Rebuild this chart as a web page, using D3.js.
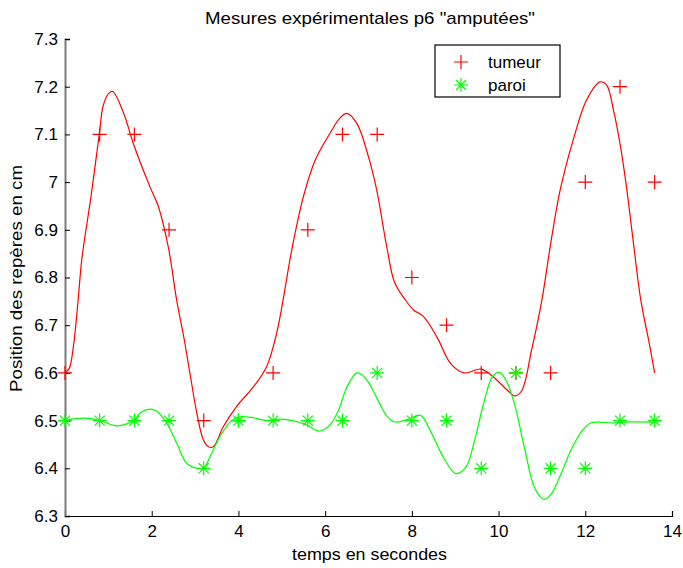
<!DOCTYPE html>
<html><head><meta charset="utf-8">
<script src="https://cdn.jsdelivr.net/npm/d3@7"></script>
<style>body{margin:0;background:#fff}svg{display:block}text{font-family:"Liberation Sans",Arial,sans-serif;fill:#000}</style>
</head><body><svg id="c" width="683" height="568"></svg>
<script>
const markerT = [0,0.8,1.6,2.4,3.2,4.0,4.8,5.6,6.4,7.2,8.0,8.8,9.6,10.4,11.2,12.0,12.8,13.6];
const tumeurMarks = [6.6,7.1,7.1,6.9,6.5,6.5,6.6,6.9,7.1,7.1,6.8,6.7,6.6,6.6,6.6,7.0,7.2,7.0];
const paroiMarks  = [6.5,6.5,6.5,6.5,6.4,6.5,6.5,6.5,6.5,6.6,6.5,6.5,6.4,6.6,6.4,6.4,6.5,6.5];
const tumeurCurveT = [0,0.1,0.2,0.3,0.39,0.6,0.79,0.88,1.0,1.1,1.35,1.58,1.96,2.15,2.38,2.58,2.73,2.88,3.04,3.19,3.31,3.42,3.65,3.96,4.34,4.65,4.88,5.03,5.23,5.5,5.77,6.11,6.34,6.5,6.73,7.0,7.19,7.42,7.6,7.85,8.04,8.27,8.58,8.9,9.21,9.6,9.9,10.22,10.37,10.53,10.76,11.0,11.2,11.42,11.72,12.03,12.34,12.49,12.65,12.8,12.95,13.1,13.28,13.48,13.6];
const tumeurCurveV = [6.6,6.61,6.66,6.75,6.84,6.97,7.10,7.16,7.185,7.19,7.145,7.08,6.99,6.95,6.865,6.75,6.68,6.60,6.516,6.46,6.445,6.445,6.487,6.53,6.57,6.613,6.683,6.753,6.858,6.97,7.046,7.102,7.134,7.144,7.123,7.053,6.983,6.865,6.79,6.753,6.732,6.718,6.675,6.619,6.6,6.608,6.59,6.562,6.552,6.562,6.647,6.753,6.87,6.983,7.088,7.172,7.21,7.204,7.151,7.081,6.99,6.88,6.753,6.66,6.6];
const paroiCurveT = [0,0.42,0.81,1.19,1.58,1.73,1.96,2.11,2.35,2.58,2.81,3.04,3.19,3.38,3.57,3.84,4.04,4.34,4.65,4.96,5.42,5.6,5.85,6.1,6.3,6.5,6.73,6.85,7.0,7.15,7.26,7.42,7.61,7.89,8.2,8.43,8.74,9.01,9.25,9.44,9.67,9.87,10.02,10.18,10.37,10.6,10.84,11.05,11.22,11.46,11.69,11.92,12.12,12.31,12.62,12.86,13.6];
const paroiCurveV = [6.5,6.505,6.5,6.489,6.5,6.516,6.524,6.52,6.494,6.452,6.41,6.4,6.4,6.431,6.466,6.5,6.508,6.506,6.5,6.503,6.496,6.49,6.478,6.49,6.52,6.57,6.6,6.596,6.58,6.555,6.535,6.51,6.497,6.502,6.511,6.478,6.421,6.389,6.403,6.456,6.541,6.594,6.601,6.583,6.534,6.442,6.357,6.335,6.347,6.393,6.442,6.478,6.495,6.497,6.495,6.497,6.497];
const xTicks = [0,2,4,6,8,10,12,14];
const yTicks = [6.3,6.4,6.5,6.6,6.7,6.8,6.9,7.0,7.1,7.2,7.3];
const yTickLabels = ["6.3","6.4","6.5","6.6","6.7","6.8","6.9","7","7.1","7.2","7.3"];
const titleText = 'Mesures expérimentales p6 "amputées"';
const xLabel = "temps en secondes";
const yLabel = "Position des repères en cm";
const legendLabels = ["tumeur","paroi"];
const RED = "#ff0000", GREEN = "#00ff00";
const FONT = "Liberation Sans, Arial, sans-serif";

const svg = d3.select("#c");
const x = d3.scaleLinear().domain([0,14]).range([65,672]);
const y = d3.scaleLinear().domain([6.3,7.3]).range([516,39]);

// axes
const xAxis = d3.axisBottom(x).tickValues(xTicks).tickSize(-5).tickPadding(9).tickFormat(d3.format("d"));
const gx = svg.append("g").attr("transform","translate(0,516)").call(xAxis);
gx.select(".domain").attr("stroke","#000").attr("stroke-width",1.2);
gx.selectAll(".tick line").attr("stroke","#000");
gx.selectAll("text").attr("font-size",17).attr("font-family",FONT);

const yAxis = d3.axisLeft(y).tickValues(yTicks).tickSize(-5).tickPadding(7).tickFormat((d,i)=>yTickLabels[i]);
const gy = svg.append("g").attr("transform","translate(65,0)").call(yAxis);
gy.select(".domain").attr("stroke","#7a7a7a").attr("stroke-width",2);
gy.selectAll(".tick line").attr("stroke","#000");
gy.selectAll("text").attr("font-size",17).attr("font-family",FONT);

// curves
const line = d3.line().x(d=>x(d[0])).y(d=>y(d[1])).curve(d3.curveCatmullRom);
svg.append("path").datum(tumeurCurveT.map((t,i)=>[t,tumeurCurveV[i]]))
  .attr("d",line).attr("fill","none").attr("stroke",RED).attr("stroke-width",1.2);
svg.append("path").datum(paroiCurveT.map((t,i)=>[t,paroiCurveV[i]]))
  .attr("d",line).attr("fill","none").attr("stroke",GREEN).attr("stroke-width",1.2);

// markers
const plus = (g,s)=>g.attr("d",`M${-s},0H${s}M0,${-s}V${s}`);
const star = (g,s)=>{const a=s*0.72;return g.attr("d",`M${-s},0H${s}M0,${-s}V${s}M${-a},${-a}L${a},${a}M${-a},${a}L${a},${-a}`);};
svg.append("g").selectAll("path").data(markerT.map((t,i)=>[t,tumeurMarks[i]])).join("path")
  .attr("transform",d=>`translate(${x(d[0])},${y(d[1])})`).call(plus,7)
  .attr("stroke",RED).attr("stroke-width",1.2).attr("fill","none");
svg.append("g").selectAll("path").data(markerT.map((t,i)=>[t,paroiMarks[i]])).join("path")
  .attr("transform",d=>`translate(${x(d[0])},${y(d[1])})`).call(star,7)
  .attr("stroke",GREEN).attr("stroke-width",1.2).attr("fill","none");

// title and labels
svg.append("text").attr("x",370).attr("y",24).attr("text-anchor","middle").attr("font-size",17)
  .attr("textLength",330).attr("lengthAdjust","spacingAndGlyphs").text(titleText);
svg.append("text").attr("x",369.5).attr("y",560).attr("text-anchor","middle").attr("font-size",17)
  .attr("textLength",155).attr("lengthAdjust","spacingAndGlyphs").text(xLabel);
svg.append("text").attr("transform","translate(22,278.5) rotate(-90)").attr("text-anchor","middle").attr("font-size",17)
  .attr("textLength",227).attr("lengthAdjust","spacingAndGlyphs").text(yLabel);

// legend
const lg = svg.append("g");
lg.append("rect").attr("x",435).attr("y",45).attr("width",125).attr("height",52).attr("fill","#fff").attr("stroke","#000").attr("stroke-width",1.2);
lg.append("path").attr("transform","translate(461,62)").call(plus,7).attr("stroke",RED).attr("stroke-width",1.2);
lg.append("path").attr("transform","translate(461,85)").call(star,7).attr("stroke",GREEN).attr("stroke-width",1.2);
lg.selectAll("text.l").data(legendLabels).join("text").attr("class","l")
  .attr("x",488).attr("y",(d,i)=>68+i*23).attr("font-size",17).text(d=>d);
</script></body></html>
